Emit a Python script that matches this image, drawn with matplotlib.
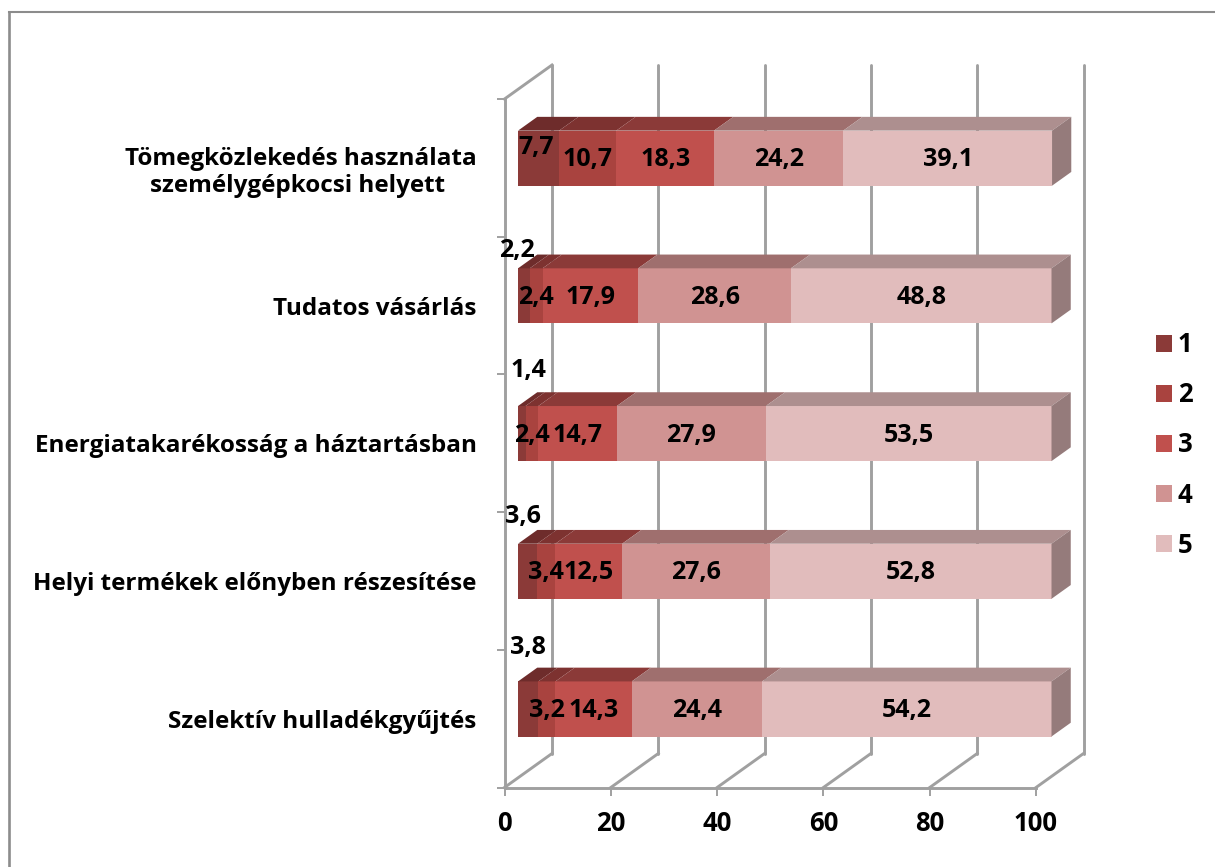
import matplotlib
matplotlib.use('Agg')
import matplotlib.pyplot as plt
from matplotlib.lines import Line2D
from matplotlib.patches import Patch, Polygon

categories = ['Tömegközlekedés használata\nszemélygépkocsi helyett ', 'Tudatos vásárlás',
              'Energiatakarékosság a háztartásban', 'Helyi termékek előnyben részesítése',
              'Szelektív hulladékgyűjtés']
series_names = ['1', '2', '3', '4', '5']
s1 = [7.7, 2.2, 1.4, 3.6, 3.8]
s2 = [10.7, 2.4, 2.4, 3.4, 3.2]
s3 = [18.3, 17.9, 14.7, 12.5, 14.3]
s4 = [24.2, 28.6, 27.9, 27.6, 24.4]
s5 = [39.1, 48.8, 53.5, 52.8, 54.2]
x_ticks = [0, 20, 40, 60, 80, 100]

front_colors = ['#8b3a38', '#a9433f', '#c0504d', '#d09392', '#e1bcbc']
top_colors = ['#6e2c2b', '#7d3230', '#8b3a38', '#9f6f6e', '#ad8f8f']
side_color = '#957b7b'
grid_color = '#a0a0a0'

# hand placed data labels in the original, pixels from the segment centre
label_nudges = {(0, 0): (-2, -11), (1, 0): (-7, -45), (2, 0): (7, -63),
                (3, 0): (-5, -55), (4, 0): (0, -61)}

W, H = 1215, 867
plt.rcParams['font.family'] = ['Open Sans', 'DejaVu Sans']
plt.rcParams['font.weight'] = 'bold'
FONT = 18.5
LABEL_FONT = 18
CAT_FONT = 17.5

fig = plt.figure(figsize=(W / 100, H / 100), dpi=100)
# the picture only has a frame on the top and left, the rest is cropped off
fig.add_artist(Line2D([8.5 / W, 8.5 / W], [0, 1 - 12 / H], color='#8c8c8c', lw=1.9))
fig.add_artist(Line2D([8.5 / W, 1], [1 - 12 / H, 1 - 12 / H], color='#8c8c8c', lw=1.5))

X0, X1, Y_TOP, Y_BOT = 504.5, 1036, 99, 787.5
ax = fig.add_axes([X0 / W, 1 - Y_BOT / H, (X1 - X0) / W, (Y_BOT - Y_TOP) / H])
ax.set_xlim(0, 100)
ax.set_ylim(5, 0)

# oblique projection: one full depth of the chart in data units
DX = 47.5 / ((X1 - X0) / 100)
DY = -34 / ((Y_BOT - Y_TOP) / 5)
BAR_FRONT, BAR_BACK = 0.285, 0.69
BAR_H = 0.4


def proj(x, y, depth):
    return x + depth * DX, y + depth * DY


# back wall and floor
for t in x_ticks:
    ax.plot(*zip(proj(t, 0, 1), proj(t, 5, 1)), color=grid_color, lw=2.1, zorder=1, clip_on=False,
            solid_capstyle='round')
    ax.plot(*zip(proj(t, 5, 0), proj(t, 5, 1)), color=grid_color, lw=2.1, zorder=1, clip_on=False)
ax.plot(*zip(proj(0, 0, 0), proj(0, 0, 1)), color=grid_color, lw=2.1, zorder=1, clip_on=False)

# stacked bars with top and right faces
stack = [s1, s2, s3, s4, s5]
scale = (1052 - 518) / ((X1 - X0))
for i in range(len(categories)):
    left = 0
    y = i + 0.5
    for j, vals in enumerate(stack):
        w = vals[i] * scale
        fx, fy = proj(left, y, BAR_FRONT)
        ax.barh(fy, w, left=fx, height=BAR_H, color=front_colors[j], edgecolor='none', zorder=3, clip_on=False)
        top_y = y - BAR_H / 2
        ax.add_patch(Polygon([proj(left, top_y, BAR_FRONT), proj(left + w, top_y, BAR_FRONT),
                              proj(left + w, top_y, BAR_BACK), proj(left, top_y, BAR_BACK)],
                             facecolor=top_colors[j], edgecolor='none', zorder=3, clip_on=False))
        dx, dy = label_nudges.get((i, j), (0, 1.5))
        ax.annotate(f'{vals[i]:.1f}'.replace('.', ','), (fx + w / 2, fy), xytext=(dx * 0.72, -dy * 0.72),
                    textcoords='offset points', ha='center', va='center', fontsize=LABEL_FONT,
                    fontweight='bold', color='black', zorder=6, annotation_clip=False)
        left += w
    low_y = y + BAR_H / 2
    top_y = y - BAR_H / 2
    ax.add_patch(Polygon([proj(left, top_y, BAR_FRONT), proj(left, top_y, BAR_BACK),
                          proj(left, low_y, BAR_BACK), proj(left, low_y, BAR_FRONT)],
                         facecolor=side_color, edgecolor='none', zorder=3, clip_on=False))

for side in ['top', 'right']:
    ax.spines[side].set_visible(False)
for side in ['left', 'bottom']:
    ax.spines[side].set_color(grid_color)
    ax.spines[side].set_linewidth(2.1)

ax.set_xticks(x_ticks)
ax.set_xticklabels([str(t) for t in x_ticks], fontsize=FONT, fontweight='bold')
ax.set_yticks(range(6))
ax.set_yticklabels([])
ax.set_yticks([i + 0.5 for i in range(5)], minor=True)
ax.set_yticklabels(categories, minor=True, fontsize=CAT_FONT, fontweight='bold', ha='right', multialignment='center')
ax.tick_params(axis='x', which='major', length=6, width=1.4, color=grid_color, pad=10)
ax.tick_params(axis='y', which='major', length=6, width=1.4, color=grid_color)
ax.tick_params(axis='y', which='minor', length=0, pad=20)

handles = [Patch(facecolor=c, edgecolor='none') for c in front_colors]
fig.legend(handles, series_names, loc='center left', bbox_to_anchor=(1133 / W, 1 - 445 / H), frameon=False,
           fontsize=FONT, handlelength=0.62, handleheight=0.62, labelspacing=0.9, handletextpad=0.23)

fig.savefig('out.png', dpi=100)
plt.close(fig)
